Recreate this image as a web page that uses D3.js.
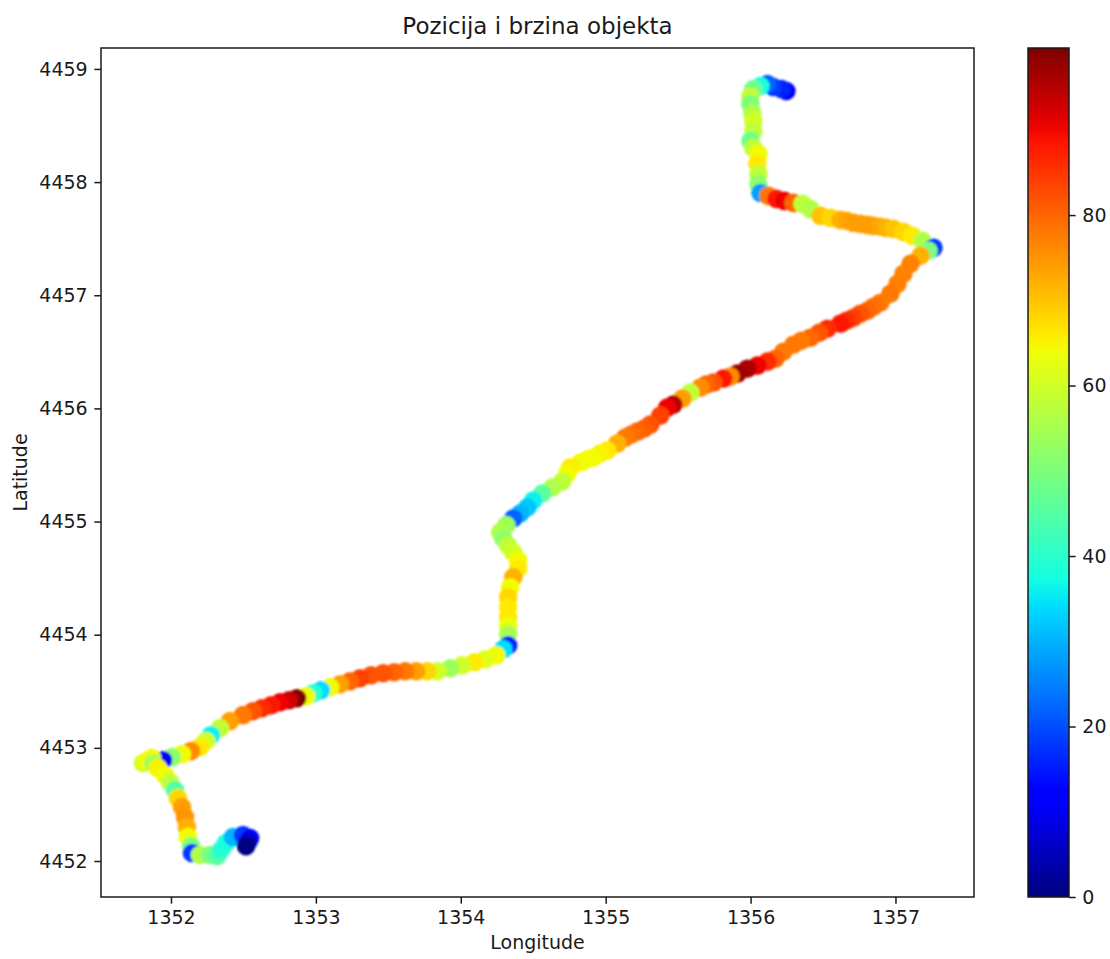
<!DOCTYPE html>
<html>
<head>
<meta charset="utf-8">
<script src="https://cdn.jsdelivr.net/npm/d3@7"></script>
<style>
  html, body { margin: 0; padding: 0; background: #fff; }
  svg { display: block; }
  text { font-family: "DejaVu Sans", sans-serif; fill: #1a1a1a; }
</style>
</head>
<body>
<svg id="chart" width="1110" height="959"></svg>
<script>
// Points listed from the end of the trip (bottom-left stop) back to its start (top),
// drawn in reverse so the last recorded points sit on top.
const longitude = [
  1352.518, 1352.532, 1352.546, 1352.497, 1352.428, 1352.380, 1352.345, 1352.318, 1352.269, 1352.200,
  1352.145, 1352.138, 1352.117, 1352.110, 1352.097, 1352.076, 1352.048, 1352.028, 1351.993, 1351.959,
  1351.910, 1351.876, 1351.834, 1351.807, 1351.869, 1351.945, 1352.007, 1352.076, 1352.138, 1352.200,
  1352.242, 1352.276, 1352.338, 1352.407, 1352.497, 1352.566, 1352.628, 1352.691, 1352.753, 1352.815,
  1352.870, 1352.932, 1352.981, 1353.036, 1353.098, 1353.167, 1353.236, 1353.305, 1353.381, 1353.464,
  1353.540, 1353.616, 1353.692, 1353.768, 1353.837, 1353.927, 1354.010, 1354.093, 1354.169, 1354.245,
  1354.293, 1354.327, 1354.327, 1354.327, 1354.327, 1354.327, 1354.327, 1354.341, 1354.362, 1354.396,
  1354.396, 1354.362, 1354.327, 1354.293, 1354.272, 1354.314, 1354.362, 1354.410, 1354.459, 1354.500,
  1354.562, 1354.631, 1354.700, 1354.735, 1354.755, 1354.825, 1354.873, 1354.914, 1354.963, 1355.011,
  1355.080, 1355.135, 1355.177, 1355.218, 1355.267, 1355.308, 1355.377, 1355.425, 1355.467, 1355.529,
  1355.584, 1355.653, 1355.694, 1355.743, 1355.812, 1355.860, 1355.909, 1355.978, 1356.047, 1356.116,
  1356.171, 1356.226, 1356.296, 1356.351, 1356.413, 1356.475, 1356.530, 1356.620, 1356.662, 1356.710,
  1356.758, 1356.807, 1356.848, 1356.896, 1356.965, 1357.014, 1357.055, 1357.104, 1357.173, 1357.228,
  1357.262, 1357.186, 1357.117, 1357.055, 1356.986, 1356.938, 1356.896, 1356.848, 1356.807, 1356.758,
  1356.710, 1356.662, 1356.620, 1356.551, 1356.482, 1356.413, 1356.358, 1356.296, 1356.233, 1356.178,
  1356.123, 1356.068, 1356.054, 1356.054, 1356.047, 1356.054, 1356.019, 1355.999, 1356.019, 1356.019,
  1356.012, 1355.999, 1355.999, 1356.019, 1356.068, 1356.116, 1356.157, 1356.213, 1356.247
];
const latitude = [
  4452.132, 4452.168, 4452.203, 4452.229, 4452.212, 4452.159, 4452.097, 4452.044, 4452.053, 4452.053,
  4452.071, 4452.132, 4452.212, 4452.300, 4452.388, 4452.477, 4452.556, 4452.627, 4452.697, 4452.759,
  4452.821, 4452.865, 4452.883, 4452.865, 4452.909, 4452.891, 4452.918, 4452.944, 4452.971, 4453.006,
  4453.059, 4453.112, 4453.174, 4453.236, 4453.289, 4453.324, 4453.350, 4453.377, 4453.403, 4453.421,
  4453.439, 4453.456, 4453.483, 4453.509, 4453.536, 4453.562, 4453.589, 4453.615, 4453.642, 4453.659,
  4453.668, 4453.677, 4453.677, 4453.677, 4453.677, 4453.703, 4453.730, 4453.756, 4453.783, 4453.818,
  4453.871, 4453.906, 4454.004, 4454.074, 4454.154, 4454.242, 4454.330, 4454.418, 4454.507, 4454.586,
  4454.657, 4454.727, 4454.789, 4454.851, 4454.904, 4454.966, 4455.027, 4455.071, 4455.124, 4455.186,
  4455.248, 4455.301, 4455.354, 4455.424, 4455.477, 4455.522, 4455.548, 4455.566, 4455.601, 4455.627,
  4455.689, 4455.742, 4455.769, 4455.795, 4455.822, 4455.857, 4455.936, 4456.007, 4456.033, 4456.086,
  4456.139, 4456.184, 4456.210, 4456.228, 4456.263, 4456.281, 4456.307, 4456.351, 4456.378, 4456.413,
  4456.439, 4456.501, 4456.563, 4456.598, 4456.625, 4456.669, 4456.704, 4456.748, 4456.775, 4456.801,
  4456.837, 4456.863, 4456.898, 4456.934, 4457.013, 4457.101, 4457.190, 4457.278, 4457.349, 4457.393,
  4457.419, 4457.481, 4457.525, 4457.560, 4457.587, 4457.596, 4457.605, 4457.613, 4457.622, 4457.631,
  4457.640, 4457.658, 4457.666, 4457.684, 4457.702, 4457.763, 4457.808, 4457.816, 4457.834, 4457.852,
  4457.878, 4457.905, 4457.984, 4458.072, 4458.161, 4458.249, 4458.302, 4458.364, 4458.452, 4458.540,
  4458.611, 4458.690, 4458.761, 4458.823, 4458.849, 4458.867, 4458.840, 4458.823, 4458.805
];
const speed = [
  0, 6, 12, 18, 30, 38, 40, 45, 50, 56,
  18, 50, 64, 72, 75, 74, 68, 45, 58, 64,
  65, 55, 64, 60, 64, 10, 52, 64, 76, 66,
  60, 36, 58, 74, 78, 82, 86, 88, 90, 93,
  99.6, 64, 40, 34, 64, 74, 80, 84, 82, 82,
  80, 78, 74, 68, 60, 54, 60, 66, 62, 64,
  34, 16, 55, 63, 66, 66, 68, 64, 72, 66,
  64, 60, 58, 52, 56, 54, 22, 30, 32, 36,
  46, 56, 58, 64, 66, 64, 64, 64, 65, 66,
  72, 78, 79, 80, 81, 82, 84, 90, 95, 74,
  58, 76, 80, 82, 88, 76, 97, 96, 90, 86,
  80, 78, 78, 78, 80, 82, 86, 88, 86, 84,
  82, 80, 79, 78, 78, 77, 77, 77, 72, 50,
  18, 56, 66, 68, 70, 72, 73, 74, 74, 74,
  74, 73, 72, 68, 70, 56, 58, 80, 90, 88,
  78, 28, 52, 58, 66, 64, 58, 48, 58, 60,
  56, 50, 58, 48, 38, 22, 18, 16, 12
];
const xTicks = [1352, 1353, 1354, 1355, 1356, 1357];
const yTicks = [4452, 4453, 4454, 4455, 4456, 4457, 4458, 4459];
const cbTicks = [0, 20, 40, 60, 80];
const titleText = "Pozicija i brzina objekta";
const xLabel = "Longitude";
const yLabel = "Latitude";

// matplotlib "jet" colormap
function jet(t) {
  t = Math.max(0, Math.min(1, t));
  const seg = (pts) => {
    for (let i = 1; i < pts.length; i++) {
      if (t <= pts[i][0]) {
        const [x0, y0] = pts[i - 1], [x1, y1] = pts[i];
        return y0 + (y1 - y0) * (t - x0) / (x1 - x0);
      }
    }
    return pts[pts.length - 1][1];
  };
  const r = seg([[0, 0], [0.35, 0], [0.66, 1], [0.89, 1], [1, 0.5]]);
  const g = seg([[0, 0], [0.125, 0], [0.375, 1], [0.64, 1], [0.91, 0], [1, 0]]);
  const b = seg([[0, 0.5], [0.11, 1], [0.34, 1], [0.65, 0], [1, 0]]);
  return d3.rgb(r * 255, g * 255, b * 255).toString();
}

const plot = { left: 101, top: 48, right: 974, bottom: 897 };
const cb = { left: 1028, right: 1069 };
const S = 1.9; // scale factor (pt -> px)

const svg = d3.select("#chart");
const defs = svg.append("defs");
defs.append("filter").attr("id", "soft")
  .attr("x", "-5%").attr("y", "-5%").attr("width", "110%").attr("height", "110%")
  .append("feGaussianBlur").attr("stdDeviation", 1.1);

const x = d3.scaleLinear().domain([1351.517, 1357.542]).range([plot.left, plot.right]);
const y = d3.scaleLinear().domain([4451.682, 4459.185]).range([plot.bottom, plot.top]);
const color = d3.scaleSequential(jet).domain(d3.extent(speed));

const pts = longitude.map((lon, i) => ({ lon, lat: latitude[i], v: speed[i] })).reverse();

svg.append("g")
  .attr("filter", "url(#soft)")
  .selectAll("circle")
  .data(pts)
  .join("circle")
  .attr("cx", d => x(d.lon))
  .attr("cy", d => y(d.lat))
  .attr("r", 9.3)
  .attr("fill", d => color(d.v));

// axes
const tickLen = 3.5 * S, tickPad = 3.5 * S;
const xAxis = svg.append("g")
  .attr("transform", `translate(0,${plot.bottom})`)
  .call(d3.axisBottom(x).tickValues(xTicks).tickFormat(d3.format("d")).tickSize(tickLen).tickPadding(tickPad));
const yAxis = svg.append("g")
  .attr("transform", `translate(${plot.left},0)`)
  .call(d3.axisLeft(y).tickValues(yTicks).tickFormat(d3.format("d")).tickSize(tickLen).tickPadding(tickPad));
[xAxis, yAxis].forEach(g => {
  g.select(".domain").remove();
  g.selectAll(".tick line").attr("stroke", "#1a1a1a").attr("stroke-width", 1.5);
  g.selectAll(".tick text").attr("font-size", 19).attr("font-family", "DejaVu Sans").attr("fill", "#1a1a1a");
});

// spines
svg.append("rect")
  .attr("x", plot.left).attr("y", plot.top)
  .attr("width", plot.right - plot.left).attr("height", plot.bottom - plot.top)
  .attr("fill", "none").attr("stroke", "#1a1a1a").attr("stroke-width", 1.5);

// title & labels
svg.append("text")
  .attr("x", (plot.left + plot.right) / 2).attr("y", 34)
  .attr("text-anchor", "middle").attr("font-size", 23)
  .text(titleText);
svg.append("text")
  .attr("x", (plot.left + plot.right) / 2).attr("y", 949)
  .attr("text-anchor", "middle").attr("font-size", 19)
  .text(xLabel);
svg.append("text")
  .attr("transform", `translate(27,${(plot.top + plot.bottom) / 2}) rotate(-90)`)
  .attr("text-anchor", "middle").attr("font-size", 19)
  .text(yLabel);

// colorbar
const cbScale = d3.scaleLinear().domain(color.domain()).range([plot.bottom, plot.top]);
const grad = defs.append("linearGradient")
  .attr("id", "jetgrad").attr("x1", 0).attr("y1", 1).attr("x2", 0).attr("y2", 0);
d3.range(0, 1.0001, 1 / 64).forEach(t => {
  grad.append("stop").attr("offset", t).attr("stop-color", jet(t));
});
svg.append("rect")
  .attr("x", cb.left).attr("y", plot.top)
  .attr("width", cb.right - cb.left).attr("height", plot.bottom - plot.top)
  .attr("fill", "url(#jetgrad)")
  .attr("stroke", "#1a1a1a").attr("stroke-width", 1.5);
const cbAxis = svg.append("g")
  .attr("transform", `translate(${cb.right},0)`)
  .call(d3.axisRight(cbScale).tickValues(cbTicks).tickFormat(d3.format("d")).tickSize(tickLen).tickPadding(tickPad));
cbAxis.select(".domain").remove();
cbAxis.selectAll(".tick line").attr("stroke", "#1a1a1a").attr("stroke-width", 1.5);
cbAxis.selectAll(".tick text").attr("font-size", 19).attr("font-family", "DejaVu Sans").attr("fill", "#1a1a1a");
</script>
</body>
</html>
